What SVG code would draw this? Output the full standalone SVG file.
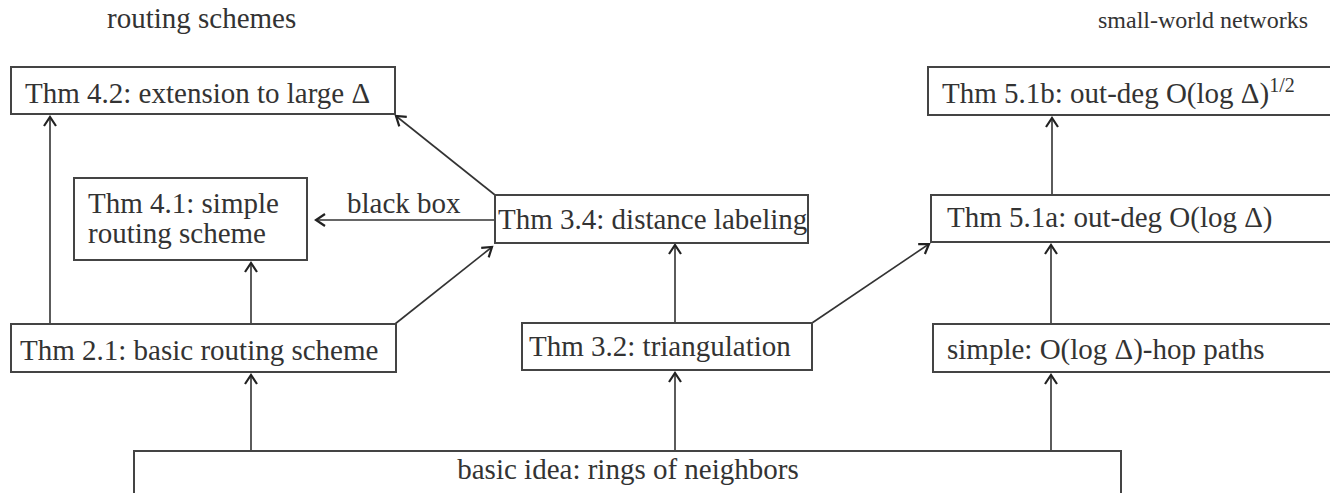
<svg xmlns="http://www.w3.org/2000/svg" width="1330" height="493" viewBox="0 0 1330 493">
  <style>
    .box { fill: #fff; stroke: #444; stroke-width: 2; }
    .lbl { font-family: "Liberation Serif", "Times New Roman", serif; font-size: 29px; fill: #333; }
    .small { font-size: 24px; }
    .sup { font-size: 20px; }
    .edge { fill: none; stroke: #333; stroke-width: 1.6; }
  </style>
  <defs>
    <marker id="arr" markerUnits="userSpaceOnUse" markerWidth="20" markerHeight="20" refX="0" refY="0" viewBox="-12 -10 14 20" orient="auto">
      <path d="M-9,-6 L0,0 L-9,6" fill="none" stroke="#222" stroke-width="2.2"/>
    </marker>
  </defs>
  <rect width="1330" height="493" fill="#fff"/>

  <!-- column headings -->
  <text class="lbl" x="107" y="28">routing schemes</text>
  <text class="lbl small" x="1098" y="28">small-world networks</text>

  <!-- connectors -->
  <g id="connectors">
    <line class="edge" x1="50" y1="324" x2="50" y2="117" marker-end="url(#arr)"/>
    <line class="edge" x1="251" y1="324" x2="251" y2="263" marker-end="url(#arr)"/>
    <line class="edge" x1="395" y1="324" x2="492" y2="247" marker-end="url(#arr)"/>
    <line class="edge" x1="497" y1="220" x2="316" y2="220" marker-end="url(#arr)"/>
    <line class="edge" x1="495" y1="195" x2="396" y2="116" marker-end="url(#arr)"/>
    <line class="edge" x1="675" y1="323" x2="675" y2="245" marker-end="url(#arr)"/>
    <line class="edge" x1="812" y1="323" x2="929" y2="244" marker-end="url(#arr)"/>
    <line class="edge" x1="1051" y1="324" x2="1051" y2="245" marker-end="url(#arr)"/>
    <line class="edge" x1="1052" y1="195" x2="1052" y2="118" marker-end="url(#arr)"/>
    <line class="edge" x1="251" y1="452" x2="251" y2="375" marker-end="url(#arr)"/>
    <line class="edge" x1="675" y1="452" x2="675" y2="373" marker-end="url(#arr)"/>
    <line class="edge" x1="1051" y1="452" x2="1051" y2="375" marker-end="url(#arr)"/>
    <text class="lbl" x="347" y="213">black box</text>
  </g>

  <!-- nodes -->
  <g id="thm42">
    <rect class="box" x="11" y="67" width="384" height="47"/>
    <text class="lbl" x="25" y="103">Thm 4.2: extension to large Δ</text>
  </g>
  <g id="thm41">
    <rect class="box" x="74" y="178" width="233" height="82"/>
    <text class="lbl" x="88" y="213">Thm 4.1: simple</text>
    <text class="lbl" x="88" y="243">routing scheme</text>
  </g>
  <g id="thm34">
    <rect class="box" x="495" y="195" width="313" height="48"/>
    <text class="lbl" x="498" y="229">Thm 3.4: distance labeling</text>
  </g>
  <g id="thm21">
    <rect class="box" x="11" y="324" width="385" height="48"/>
    <text class="lbl" x="20" y="360">Thm 2.1: basic routing scheme</text>
  </g>
  <g id="thm32">
    <rect class="box" x="522" y="323" width="290" height="47"/>
    <text class="lbl" x="529" y="356">Thm 3.2: triangulation</text>
  </g>
  <g id="thm51b">
    <rect class="box" x="928" y="67" width="420" height="48"/>
    <text class="lbl" x="942" y="103">Thm 5.1b: out-deg O(log Δ)<tspan class="sup" dy="-11">1/2</tspan></text>
  </g>
  <g id="thm51a">
    <rect class="box" x="931" y="195" width="420" height="47"/>
    <text class="lbl" x="947" y="227">Thm 5.1a: out-deg O(log Δ)</text>
  </g>
  <g id="simple">
    <rect class="box" x="933" y="324" width="420" height="48"/>
    <text class="lbl" x="947" y="359">simple: O(log Δ)-hop paths</text>
  </g>
  <g id="basic">
    <rect class="box" x="134" y="451" width="987" height="60"/>
    <text class="lbl" x="628" y="479" text-anchor="middle">basic idea: rings of neighbors</text>
  </g>
</svg>
